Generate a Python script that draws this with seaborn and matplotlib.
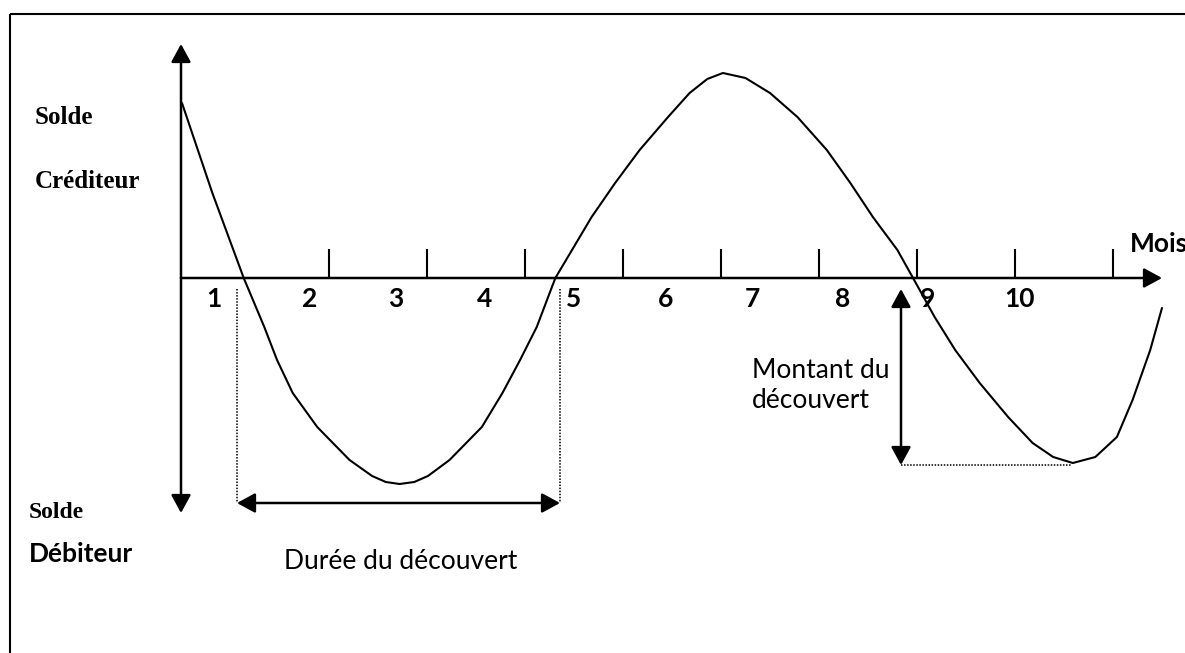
import numpy as np
import pandas as pd
import matplotlib
matplotlib.use("Agg")
import matplotlib.pyplot as plt
import seaborn as sns

# ---- data ----
month_x = [0.01, 0.32, 0.64, 0.85, 0.98, 1.14, 1.39, 1.72, 1.95, 2.09, 2.23, 2.38,
           2.52, 2.74, 3.07, 3.28, 3.46, 3.63, 3.82, 3.99, 4.19, 4.43, 4.68, 4.97,
           5.19, 5.37, 5.53, 5.76, 6.01, 6.29, 6.59, 6.83, 7.06, 7.31, 7.47, 7.69,
           7.90, 8.15, 8.44, 8.69, 8.90, 9.10, 9.33, 9.55, 9.71, 9.89, 10.01]
balance = [1.75, 0.85, 0.00, -0.49, -0.82, -1.15, -1.49, -1.82, -1.98, -2.04, -2.06, -2.04,
           -1.98, -1.82, -1.49, -1.15, -0.82, -0.49, 0.00, 0.28, 0.61, 0.95, 1.28, 1.61,
           1.85, 1.99, 2.05, 2.00, 1.85, 1.61, 1.28, 0.95, 0.61, 0.28, 0.00, -0.39,
           -0.72, -1.05, -1.39, -1.65, -1.79, -1.85, -1.79, -1.59, -1.22, -0.72, -0.30]
tick_marks = [1.51, 2.51, 3.51, 4.51, 5.51, 6.51, 7.51, 8.51, 9.51]
month_labels = ["1", "2", "3", "4", "5", "6", "7", "8", "9", "10"]
label_pos = [0.34, 1.31, 2.19, 3.10, 4.01, 4.94, 5.83, 6.75, 7.62, 8.56]

df = pd.DataFrame({"mois": month_x, "solde": balance})

# ---- layout helpers (pixel layout -> data units) ----
W, H = 1185, 653
X0, Y0, SX, SY = 181, 278, 98.0, 100.0
def X(px):
    return (px - X0) / SX
def Y(py):
    return (Y0 - py) / SY

sns.set_theme(style="white")
plt.rcParams["font.family"] = ["Lato", "DejaVu Sans"]

fig = plt.figure(figsize=(W / 100, H / 100), dpi=100)
ax = fig.add_axes([0, 0, 1, 1])
ax.set_xlim(X(0), X(W))
ax.set_ylim(Y(H), Y(0))
ax.axis("off")

# outer frame (left + top)
ax.plot([X(10), X(10)], [Y(14), Y(H + 5)], color="black", lw=1.5, solid_capstyle="butt")
ax.plot([X(10), X(W + 5)], [Y(14), Y(14)], color="black", lw=1.5, solid_capstyle="butt")

# balance curve
sns.lineplot(data=df, x="mois", y="solde", ax=ax, color="black", lw=1.5,
             sort=False, estimator=None)

arrow_kw = dict(arrowstyle="-|>,head_length=0.55,head_width=0.3", color="black",
                lw=1.8, shrinkA=0, shrinkB=0, mutation_scale=20)
dbl_kw = dict(arrowstyle="<|-|>,head_length=0.55,head_width=0.3", color="black",
              lw=1.8, shrinkA=0, shrinkB=0, mutation_scale=20)

# y axis: arrows up and down
ax.annotate("", xy=(0, Y(44)), xytext=(0, 0), arrowprops=arrow_kw)
ax.annotate("", xy=(0, Y(513)), xytext=(0, 0), arrowprops=arrow_kw)
# x axis
ax.annotate("", xy=(X(1162), 0), xytext=(0, 0), arrowprops=arrow_kw)

# ticks
for t in tick_marks:
    ax.plot([t, t], [0, Y(249)], color="black", lw=1.5, solid_capstyle="butt")

# month labels
for lab, p in zip(month_labels, label_pos):
    ax.text(p, Y(307), lab, ha="center", va="baseline", fontsize=19,
            fontweight="bold", color="black")

ax.text(X(1130), Y(252), "Mois", ha="left", va="baseline", fontsize=19,
        fontweight="bold", color="black", clip_on=False)

# dotted verticals + duration arrow
for px in (237, 560):
    ax.plot([X(px), X(px)], [Y(289), Y(503)], color="black", lw=1.1, ls=(0, (1, 1)))
ax.annotate("", xy=(X(237), Y(503)), xytext=(X(560), Y(503)), arrowprops=dbl_kw)
ax.text(X(401), Y(569), "Durée du découvert", ha="center", va="baseline",
        fontsize=19, color="black")

# overdraft amount arrow
ax.annotate("", xy=(X(901), Y(289)), xytext=(X(901), Y(465)), arrowprops=dbl_kw)
ax.plot([X(901), X(1071)], [Y(465), Y(465)], color="black", lw=1.1, ls=(0, (1, 1)))
ax.text(X(752), Y(378), "Montant du", ha="left", va="baseline", fontsize=19, color="black")
ax.text(X(752), Y(408), "découvert", ha="left", va="baseline", fontsize=19, color="black")

# y-axis side labels
serif = ["Liberation Serif", "DejaVu Serif"]
ax.text(X(35), Y(124), "Solde", ha="left", va="baseline", fontsize=18,
        fontweight="bold", family=serif, color="black")
ax.text(X(35), Y(188), "Créditeur", ha="left", va="baseline", fontsize=18,
        fontweight="bold", family=serif, color="black")
ax.text(X(29), Y(518), "Solde", ha="left", va="baseline", fontsize=17,
        fontweight="bold", family=serif, color="black")
ax.text(X(29), Y(562), "Débiteur", ha="left", va="baseline", fontsize=19,
        fontweight="bold", color="black")

fig.savefig("out.png", dpi=100)
